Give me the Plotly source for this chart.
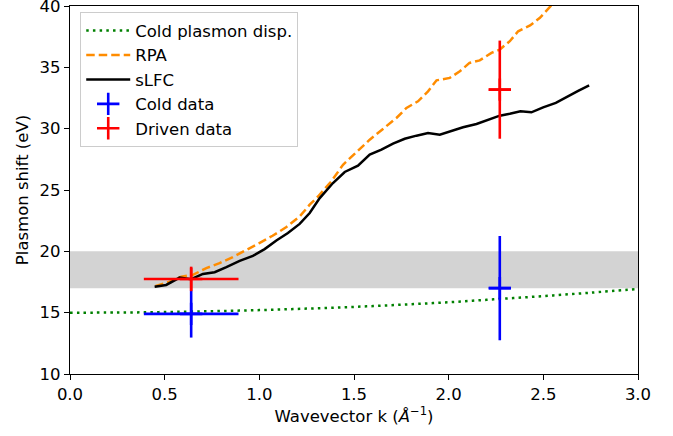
import plotly.graph_objects as go

# Cold plasmon dispersion
k_cold = [0.0, 0.25, 0.5, 0.75, 1.0, 1.25, 1.5, 1.75, 2.0, 2.25, 2.5, 2.75, 3.0]
e_cold = [15.0, 15.01, 15.05, 15.12, 15.21, 15.33, 15.47, 15.65, 15.85, 16.1, 16.35, 16.63, 16.93]

# RPA
k_rpa = [0.45, 0.526, 0.588, 0.649, 0.72, 0.79, 0.86, 0.93, 1.0, 1.07, 1.143, 1.213, 1.266,
         1.31, 1.38, 1.442, 1.513, 1.583, 1.653, 1.724, 1.777, 1.838, 1.891, 1.936, 2.006,
         2.059, 2.11, 2.164, 2.226, 2.27, 2.323, 2.367, 2.43, 2.482, 2.535, 2.6]
e_rpa = [17.15, 17.53, 17.94, 18.08, 18.63, 19.04, 19.53, 20.07, 20.67, 21.27, 21.98, 22.84, 23.8,
         24.47, 25.7, 27.06, 28.07, 29.1, 29.98, 30.87, 31.69, 32.23, 33.04, 33.94, 34.14,
         34.68, 35.36, 35.57, 36.18, 36.45, 37.13, 37.94, 38.41, 39.04, 39.93, 40.9]

# sLFC
k_slfc = [0.447, 0.508, 0.579, 0.64, 0.702, 0.764, 0.826, 0.896, 0.966, 1.028, 1.09, 1.151,
          1.213, 1.266, 1.319, 1.389, 1.451, 1.521, 1.583, 1.645, 1.706, 1.768, 1.83, 1.891,
          1.953, 2.023, 2.076, 2.147, 2.208, 2.27, 2.323, 2.379, 2.437, 2.499, 2.566, 2.622,
          2.684, 2.742]
e_slfc = [17.12, 17.26, 17.86, 17.73, 18.16, 18.3, 18.71, 19.22, 19.63, 20.18, 20.88, 21.49,
          22.24, 23.12, 24.34, 25.57, 26.47, 26.98, 27.88, 28.29, 28.78, 29.18, 29.43, 29.65,
          29.51, 29.86, 30.11, 30.38, 30.73, 31.06, 31.22, 31.41, 31.33, 31.74, 32.1, 32.59,
          33.08, 33.53]

# Data points
k_coldd = [0.64, 2.27]
e_coldd = [14.9, 17.0]
kerr_coldd = [0.25, 0.058]
eerr_coldd = [1.93, 4.25]

k_drv = [0.64, 2.27]
e_drv = [17.75, 33.18]
kerr_drv = [0.25, 0.058]
eerr_drv = [1.0, 4.0]

band = [17.0, 20.0]

x_ticks = [0, 0.5, 1, 1.5, 2, 2.5, 3]
x_ticktext = ["0.0", "0.5", "1.0", "1.5", "2.0", "2.5", "3.0"]
y_ticks = [10, 15, 20, 25, 30, 35, 40]

FONT = "DejaVu Sans"
FS = 16.5
fig = go.Figure()

fig.add_shape(type="rect", xref="paper", x0=0, x1=1, yref="y", y0=band[0], y1=band[1],
              fillcolor="#d3d3d3", line_width=0, layer="below")

fig.add_trace(go.Scatter(x=k_cold, y=e_cold, mode="lines", name="Cold plasmon disp.",
                         line=dict(color="green", width=2.5, dash="2.5px,4.2px", shape="spline")))
fig.add_trace(go.Scatter(x=k_rpa, y=e_rpa, mode="lines", name="RPA",
                         line=dict(color="darkorange", width=2.5, dash="8.5px,4px")))
fig.add_trace(go.Scatter(x=k_slfc, y=e_slfc, mode="lines", name="sLFC",
                         line=dict(color="black", width=2.5)))
fig.add_trace(go.Scatter(x=k_coldd, y=e_coldd, mode="markers", name="Cold data",
                         marker=dict(symbol="cross-thin", size=16, color="blue",
                                     line=dict(color="blue", width=2.6)),
                         error_x=dict(type="data", array=kerr_coldd, color="blue", thickness=2.6, width=0),
                         error_y=dict(type="data", array=eerr_coldd, color="blue", thickness=2.6, width=0)))
fig.add_trace(go.Scatter(x=k_drv, y=e_drv, mode="markers", name="Driven data",
                         marker=dict(symbol="cross-thin", size=16, color="red",
                                     line=dict(color="red", width=2.6)),
                         error_x=dict(type="data", array=kerr_drv, color="red", thickness=2.6, width=0),
                         error_y=dict(type="data", array=eerr_drv, color="red", thickness=2.6, width=0)))

axis_common = dict(showgrid=False, zeroline=False, showline=True, linecolor="black", linewidth=1.3,
                   mirror=True, ticks="outside", ticklen=5, tickwidth=1.2, tickcolor="black",
                   automargin=False, ticklabeloverflow="allow",
                   tickfont=dict(family=FONT, size=FS, color="black"))

fig.update_xaxes(range=[0, 3], tickvals=x_ticks, ticktext=x_ticktext,
                 title=dict(text="Wavevector k (<i>Å</i><sup>−1</sup>)", font=dict(family=FONT, size=FS, color="black"),
                            standoff=3),
                 **axis_common)
fig.update_yaxes(range=[10, 40], tickvals=y_ticks,
                 title=dict(text="Plasmon shift (eV)", font=dict(family=FONT, size=FS, color="black"),
                            standoff=6),
                 **axis_common)

fig.update_layout(
    width=673, height=436,
    margin=dict(l=70, r=35, t=6, b=62),
    plot_bgcolor="white", paper_bgcolor="white",
    font=dict(family=FONT, size=FS, color="black"),
    showlegend=True,
    legend=dict(x=0.018, y=0.983, xanchor="left", yanchor="top",
                bgcolor="rgba(255,255,255,0.8)", bordercolor="#cccccc", borderwidth=1,
                font=dict(family=FONT, size=FS, color="black"),
                tracegroupgap=0, itemwidth=44),
)

fig.write_html("out.html", config={"displayModeBar": False},
               post_script="document.body.style.margin='0';document.body.style.padding='0';")
